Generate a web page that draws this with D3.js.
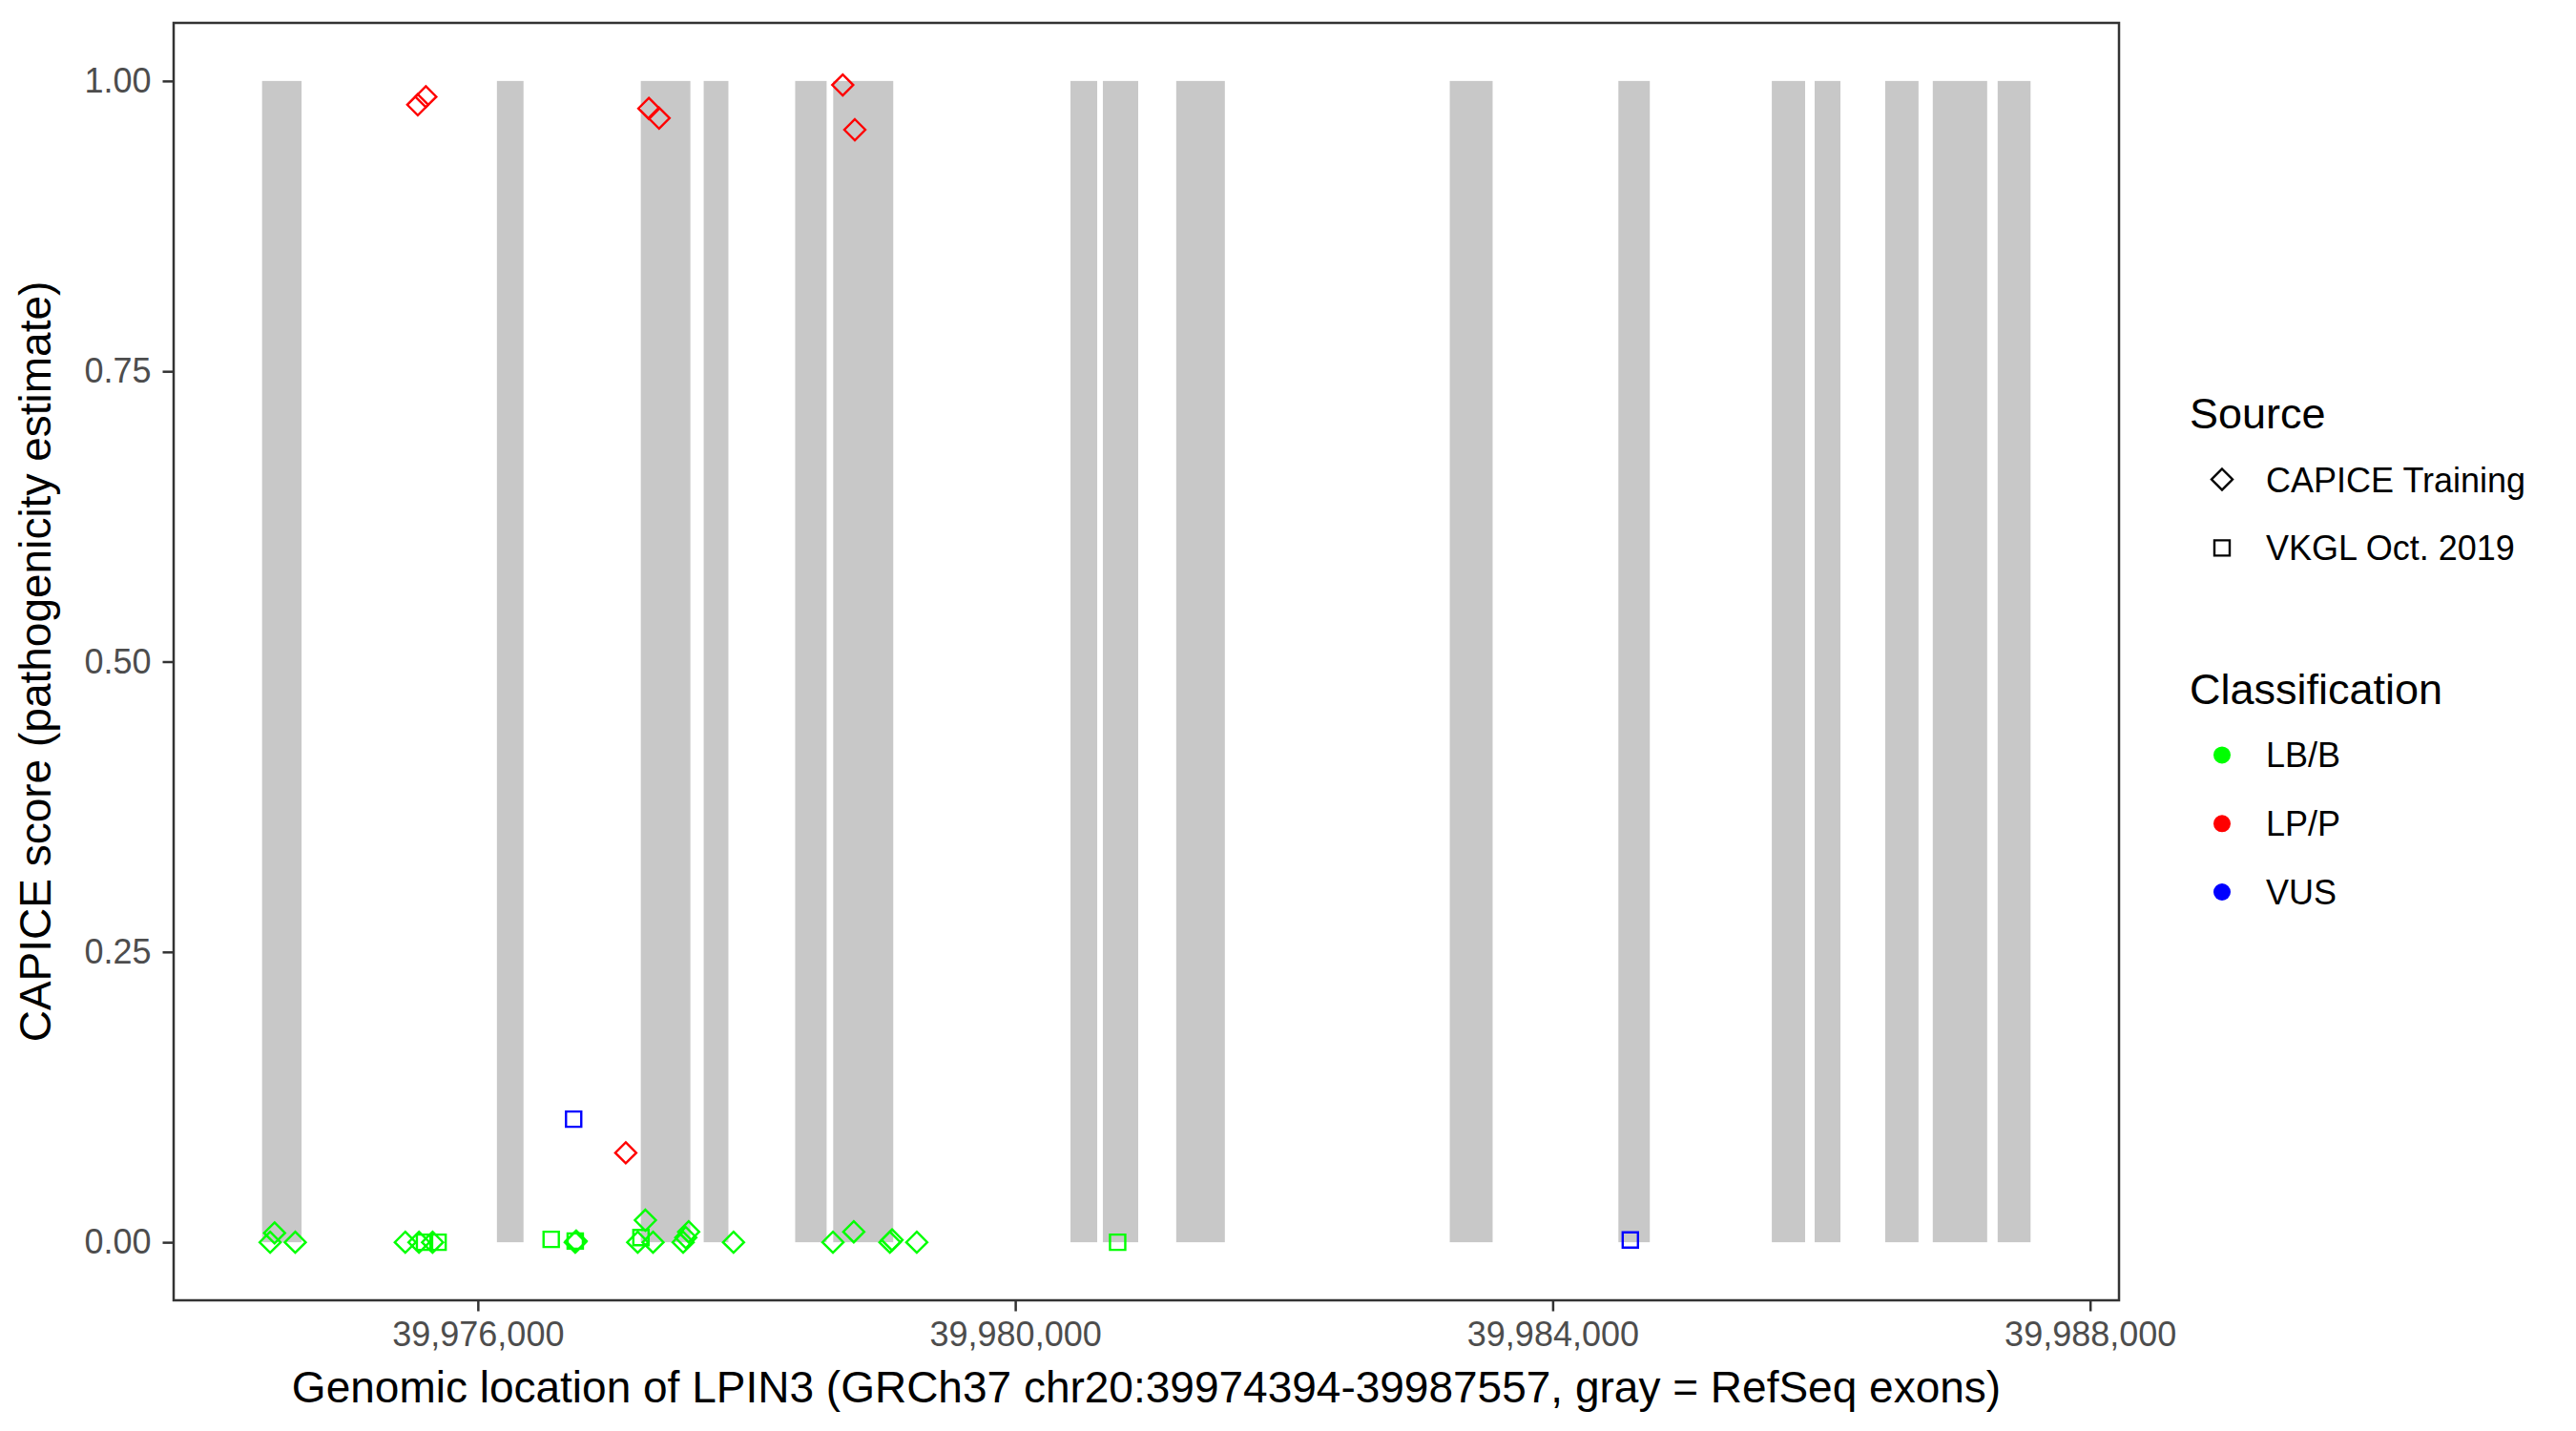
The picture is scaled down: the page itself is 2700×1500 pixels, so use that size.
<!DOCTYPE html>
<html>
<head>
<meta charset="utf-8">
<script src="https://cdn.jsdelivr.net/npm/d3@7"></script>
<style>
  body { margin: 0; background: #ffffff; }
  text { font-family: "Liberation Sans", Arial, Helvetica, sans-serif; }
</style>
</head>
<body>
<svg id="chart" width="2700" height="1500"></svg>
<script>
// ---------------- DATA ----------------
const geneStart = 39974394;
const geneEnd = 39987557;

const exonStarts = [39974394, 39976142, 39977213, 39977681, 39978362, 39978645, 39980411, 39980652,
                    39981198, 39983234, 39984489, 39985631, 39985950, 39986475, 39986829, 39987312];
const exonEnds   = [39974688, 39976340, 39977582, 39977865, 39978596, 39979092, 39980610, 39980915,
                    39981560, 39983553, 39984723, 39985879, 39986142, 39986723, 39987234, 39987557];

const pointPos = [
  39974454, 39974487, 39974641, 39975460, 39975562, 39975663, 39976725, 39976732, 39977190, 39977247,
  39977304, 39977528, 39977548, 39977569, 39977903, 39978643, 39978798, 39979067, 39979083, 39979267,
  39975603, 39975704, 39976546, 39976725, 39977214, 39980762,
  39976713, 39984578,
  39975553, 39975613, 39977101, 39977273, 39977349, 39978716, 39978806
];
const pointScore = [
  0, 0.008, 0, 0, 0, 0, 0, 0.001, 0, 0.019,
  0, 0, 0.004, 0.009, 0, 0, 0.009, 0, 0.002, 0,
  0, 0, 0.0025, 0.001, 0.004, 0,
  0.106, 0.002,
  0.9795, 0.9864, 0.077, 0.9763, 0.968, 0.9965, 0.958
];
const pointSource = [
  "CAPICE Training","CAPICE Training","CAPICE Training","CAPICE Training","CAPICE Training",
  "CAPICE Training","CAPICE Training","CAPICE Training","CAPICE Training","CAPICE Training",
  "CAPICE Training","CAPICE Training","CAPICE Training","CAPICE Training","CAPICE Training",
  "CAPICE Training","CAPICE Training","CAPICE Training","CAPICE Training","CAPICE Training",
  "VKGL Oct. 2019","VKGL Oct. 2019","VKGL Oct. 2019","VKGL Oct. 2019","VKGL Oct. 2019","VKGL Oct. 2019",
  "VKGL Oct. 2019","VKGL Oct. 2019",
  "CAPICE Training","CAPICE Training","CAPICE Training","CAPICE Training","CAPICE Training",
  "CAPICE Training","CAPICE Training"
];
const pointClass = [
  "LB/B","LB/B","LB/B","LB/B","LB/B","LB/B","LB/B","LB/B","LB/B","LB/B",
  "LB/B","LB/B","LB/B","LB/B","LB/B","LB/B","LB/B","LB/B","LB/B","LB/B",
  "LB/B","LB/B","LB/B","LB/B","LB/B","LB/B",
  "VUS","VUS",
  "LP/P","LP/P","LP/P","LP/P","LP/P","LP/P","LP/P"
];

const xTicks = [39976000, 39980000, 39984000, 39988000];
const yTicks = [0, 0.25, 0.5, 0.75, 1];
const yTickLabels = ["0.00", "0.25", "0.50", "0.75", "1.00"];

const sourceLabels = ["CAPICE Training", "VKGL Oct. 2019"];
const classLabels = ["LB/B", "LP/P", "VUS"];
const classColors = ["#00FF00", "#FF0000", "#0000FF"];

const xTitle = "Genomic location of LPIN3 (GRCh37 chr20:39974394-39987557, gray = RefSeq exons)";
const yTitle = "CAPICE score (pathogenicity estimate)";

// ---------------- LAYOUT ----------------
const panel = { left: 182, right: 2221, top: 24, bottom: 1363 };
const span = geneEnd - geneStart;

const x = d3.scaleLinear()
  .domain([geneStart - 0.05 * span, geneEnd + 0.05 * span])
  .range([panel.left, panel.right]);
const y = d3.scaleLinear()
  .domain([-0.05, 1.05])
  .range([panel.bottom, panel.top]);

const color = d3.scaleOrdinal().domain(classLabels).range(classColors);

// custom symbols matching ggplot open diamond (shape 5) and open square (shape 0)
const diamondType = { draw(ctx, size) { const r = Math.sqrt(size); ctx.moveTo(0, -r); ctx.lineTo(r, 0); ctx.lineTo(0, r); ctx.lineTo(-r, 0); ctx.closePath(); } };
const squareType = { draw(ctx, size) { const r = Math.sqrt(size); ctx.rect(-r, -r, 2 * r, 2 * r); } };
const shape = d3.scaleOrdinal().domain(sourceLabels).range([
  d3.symbol().type(diamondType).size(11 * 11)(),
  d3.symbol().type(squareType).size(8 * 8)()
]);

const svg = d3.select("#chart");
svg.append("rect").attr("width", 2700).attr("height", 1500).attr("fill", "#ffffff");

// panel background
svg.append("rect")
  .attr("x", panel.left).attr("y", panel.top)
  .attr("width", panel.right - panel.left).attr("height", panel.bottom - panel.top)
  .attr("fill", "#ffffff");

// exons
const exons = exonStarts.map((s, i) => ({ s, e: exonEnds[i] }));
svg.append("g").selectAll("rect").data(exons).join("rect")
  .attr("x", d => x(d.s))
  .attr("width", d => x(d.e) - x(d.s))
  .attr("y", y(1))
  .attr("height", y(0) - y(1))
  .attr("fill", "#C8C8C8");

// points
const points = pointPos.map((p, i) => ({ p, v: pointScore[i], src: pointSource[i], cls: pointClass[i] }));
svg.append("g").selectAll("path").data(points).join("path")
  .attr("transform", d => `translate(${x(d.p)},${y(d.v)})`)
  .attr("d", d => shape(d.src))
  .attr("fill", "none")
  .attr("stroke", d => color(d.cls))
  .attr("stroke-width", 2.4);

// panel border
svg.append("rect")
  .attr("x", panel.left).attr("y", panel.top)
  .attr("width", panel.right - panel.left).attr("height", panel.bottom - panel.top)
  .attr("fill", "none").attr("stroke", "#333333").attr("stroke-width", 2.5);

// axes
const xAxis = d3.axisBottom(x).tickValues(xTicks).tickFormat(d3.format(",")).tickSize(11.5).tickPadding(11);
const gx = svg.append("g").attr("transform", `translate(0,${panel.bottom})`).call(xAxis);
const yAxis = d3.axisLeft(y).tickValues(yTicks).tickFormat((d, i) => yTickLabels[i]).tickSize(11.5).tickPadding(12);
const gy = svg.append("g").attr("transform", `translate(${panel.left},0)`).call(yAxis);

[gx, gy].forEach(g => {
  g.select(".domain").remove();
  g.selectAll(".tick line").attr("stroke", "#333333").attr("stroke-width", 2.5);
  g.selectAll(".tick text").attr("fill", "#4D4D4D").style("font-size", "36px")
    .style("font-family", '"Liberation Sans", Arial, sans-serif');
});

// axis titles
svg.append("text")
  .attr("x", (panel.left + panel.right) / 2).attr("y", 1470)
  .attr("text-anchor", "middle").attr("fill", "#000")
  .style("font-size", "46px").text(xTitle);
svg.append("text")
  .attr("transform", `translate(53,${(panel.top + panel.bottom) / 2}) rotate(-90)`)
  .attr("text-anchor", "middle").attr("fill", "#000")
  .style("font-size", "46px").text(yTitle);

// legends
const lg = svg.append("g");
lg.append("text").attr("x", 2295).attr("y", 449).style("font-size", "45px").attr("fill", "#000").text("Source");
const srcKeysY = [502.5, 574.4];
sourceLabels.forEach((lab, i) => {
  lg.append("path")
    .attr("transform", `translate(2329,${srcKeysY[i]})`)
    .attr("d", shape(lab))
    .attr("fill", "none").attr("stroke", "#000").attr("stroke-width", 2.4);
  lg.append("text").attr("x", 2375).attr("y", srcKeysY[i] + 13)
    .style("font-size", "36px").attr("fill", "#000").text(lab);
});

lg.append("text").attr("x", 2295).attr("y", 738).style("font-size", "45px").attr("fill", "#000").text("Classification");
const clsKeysY = [791.4, 863.3, 935];
classLabels.forEach((lab, i) => {
  lg.append("circle").attr("cx", 2329).attr("cy", clsKeysY[i]).attr("r", 9).attr("fill", color(lab));
  lg.append("text").attr("x", 2375).attr("y", clsKeysY[i] + 13)
    .style("font-size", "36px").attr("fill", "#000").text(lab);
});
</script>
</body>
</html>
